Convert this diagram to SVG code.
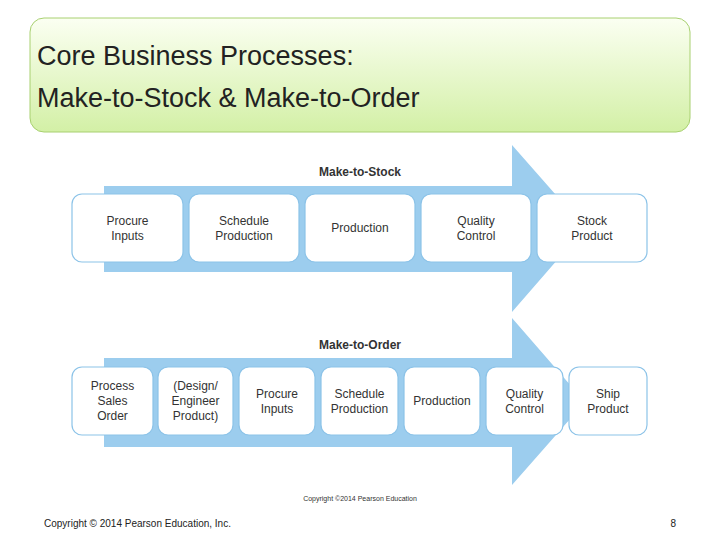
<svg xmlns="http://www.w3.org/2000/svg" width="720" height="540" viewBox="0 0 720 540">
<defs>
<linearGradient id="g" x1="0" y1="0" x2="0" y2="1"><stop offset="0" stop-color="#fbfff2"/><stop offset="1" stop-color="#d3f0a6"/></linearGradient>
<style>
.b{fill:#fff;stroke:#8cc3e8;stroke-width:1.2}
.t{font-family:"Liberation Sans",Arial,sans-serif;font-size:12px;fill:#333;text-anchor:middle}
.h{font-family:"Liberation Sans",Arial,sans-serif;font-size:12px;font-weight:bold;fill:#333;text-anchor:middle}
.a{fill:#9ccdee}
</style>
</defs>
<rect width="720" height="540" fill="#fff"/>
<rect x="30" y="18" width="660" height="114" rx="14" fill="url(#g)" stroke="#a8d070"/>
<text font-family="Liberation Sans,Arial,sans-serif" font-size="27" fill="#222"><tspan x="37" y="65">Core Business Processes:</tspan><tspan x="37" y="107">Make-to-Stock &amp; Make-to-Order</tspan></text>
<g id="connectors">
<polygon class="a" points="104,186 512,186 512,145 585,228 512,312 512,272 104,272"/>
<polygon class="a" points="104,358 512,358 512,318 585,402 512,485 512,447 104,447"/>
</g>
<text class="h" x="360" y="176">Make-to-Stock</text>
<text class="h" x="360" y="349">Make-to-Order</text>
<g id="s1"><rect class="b" x="72" y="194" width="111" height="68" rx="10"/><text class="t" x="127.5" y="225">Procure<tspan x="127.5" dy="15">Inputs</tspan></text></g>
<g id="s2"><rect class="b" x="189" y="194" width="110" height="68" rx="10"/><text class="t" x="244" y="225">Schedule<tspan x="244" dy="15">Production</tspan></text></g>
<g id="s3"><rect class="b" x="305" y="194" width="110" height="68" rx="10"/><text class="t" x="360" y="232">Production</text></g>
<g id="s4"><rect class="b" x="421" y="194" width="110" height="68" rx="10"/><text class="t" x="476" y="225">Quality<tspan x="476" dy="15">Control</tspan></text></g>
<g id="s5"><rect class="b" x="537" y="194" width="110" height="68" rx="10"/><text class="t" x="592" y="225">Stock<tspan x="592" dy="15">Product</tspan></text></g>
<g id="o1"><rect class="b" x="72" y="367" width="81" height="68" rx="10"/><text class="t" x="112.5" y="390">Process<tspan x="112.5" dy="15">Sales</tspan><tspan x="112.5" dy="15">Order</tspan></text></g>
<g id="o2"><rect class="b" x="158" y="367" width="75" height="68" rx="10"/><text class="t" x="195.5" y="390">(Design/<tspan x="195.5" dy="15">Engineer</tspan><tspan x="195.5" dy="15">Product)</tspan></text></g>
<g id="o3"><rect class="b" x="239" y="367" width="76" height="68" rx="10"/><text class="t" x="277" y="398">Procure<tspan x="277" dy="15">Inputs</tspan></text></g>
<g id="o4"><rect class="b" x="321" y="367" width="77" height="68" rx="10"/><text class="t" x="359.5" y="398">Schedule<tspan x="359.5" dy="15">Production</tspan></text></g>
<g id="o5"><rect class="b" x="404" y="367" width="76" height="68" rx="10"/><text class="t" x="442" y="405">Production</text></g>
<g id="o6"><rect class="b" x="486" y="367" width="77" height="68" rx="10"/><text class="t" x="524.5" y="398">Quality<tspan x="524.5" dy="15">Control</tspan></text></g>
<g id="o7"><rect class="b" x="569" y="367" width="78" height="68" rx="10"/><text class="t" x="608" y="398">Ship<tspan x="608" dy="15">Product</tspan></text></g>
<text font-family="Liberation Sans,Arial,sans-serif" font-size="7" fill="#333" x="360" y="501" text-anchor="middle">Copyright ©2014 Pearson Education</text>
<text font-family="Liberation Sans,Arial,sans-serif" font-size="10" fill="#222" x="44" y="527">Copyright © 2014 Pearson Education, Inc.</text>
<text font-family="Liberation Sans,Arial,sans-serif" font-size="10" fill="#222" x="676" y="527" text-anchor="end">8</text>
</svg>
